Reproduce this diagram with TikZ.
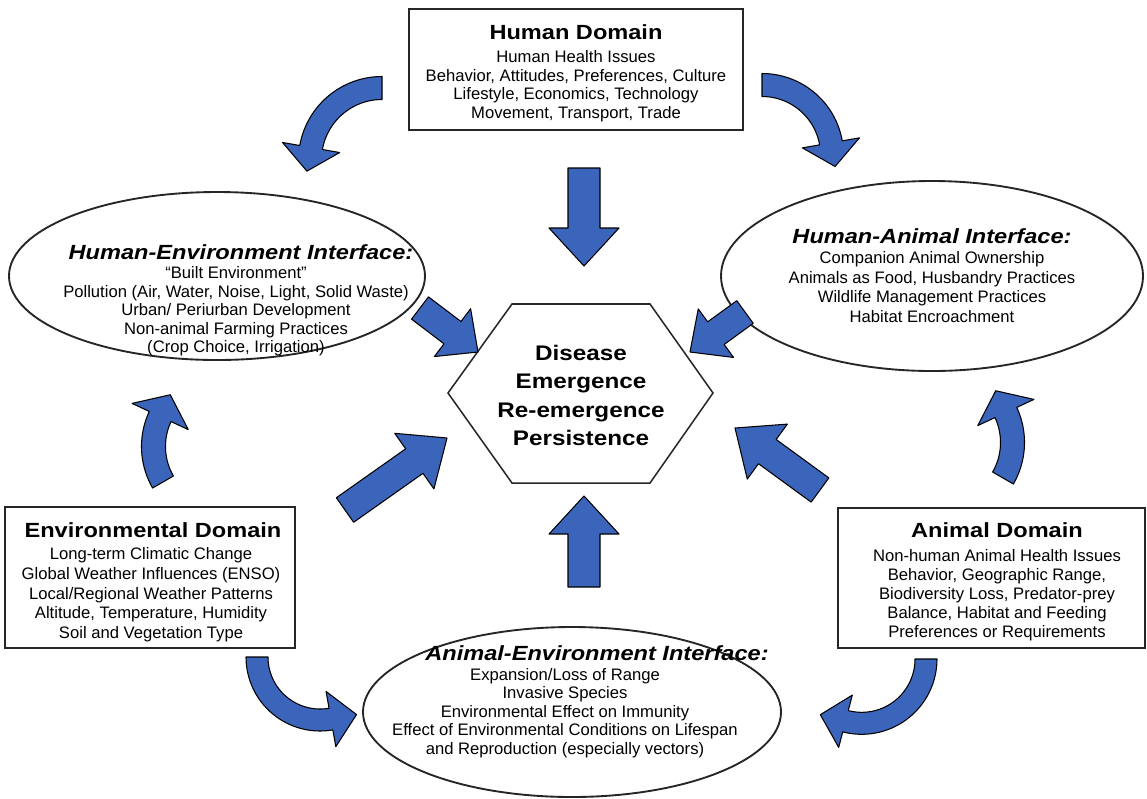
\documentclass[tikz,border=0pt]{standalone}
\usepackage{fontspec}
\setmainfont{Liberation Sans}
\newfontfamily\tfont[FakeStretch=1.15]{Liberation Sans}
\usetikzlibrary{shapes.geometric,calc}
\definecolor{arrowblue}{RGB}{59,101,186}

% curved block arrow: cx cy r a1 a2 shaft-half head-half head-length
\newcommand\curvarrow[8]{%
  \pgfmathsetmacro\ca{#5+90*sign(#5-#4)}%
  \filldraw[arr]
    plot[domain=#4:#5, samples=40] ({#1+(#3+#6)*cos(\x)},{#2+(#3+#6)*sin(\x)})
    -- ({#1+(#3+#7)*cos(#5)},{#2+(#3+#7)*sin(#5)})
    -- ($({#1+#3*cos(#5)},{#2+#3*sin(#5)})+(\ca:#8)$)
    -- ({#1+(#3-#7)*cos(#5)},{#2+(#3-#7)*sin(#5)})
    -- plot[domain=#5:#4, samples=40] ({#1+(#3-#6)*cos(\x)},{#2+(#3-#6)*sin(\x)})
    -- cycle;}

% straight block arrow: x1 y1 x2 y2 shaft-half head-half head-length
\newcommand\blockarrow[7]{%
  \pgfmathsetmacro\ba{atan2(#4-#2,#3-#1)}%
  \pgfmathsetmacro\bl{veclen(#3-#1,#4-#2)-#7}%
  \filldraw[arr] ($(#1,#2)+(\ba+90:#5)$) -- ($(#1,#2)+(\ba:\bl)+(\ba+90:#5)$)
    -- ($(#1,#2)+(\ba:\bl)+(\ba+90:#6)$) -- (#3,#4)
    -- ($(#1,#2)+(\ba:\bl)+(\ba-90:#6)$) -- ($(#1,#2)+(\ba:\bl)+(\ba-90:#5)$)
    -- ($(#1,#2)+(\ba-90:#5)$) -- cycle;}

\begin{document}
\begin{tikzpicture}[x=0.03cm, y=-0.03cm,
  box/.style={draw=black!85, line width=1.6pt, fill=white, inner sep=0pt},
  ell/.style={ellipse, draw=black!85, line width=1.6pt, fill=white, inner sep=0pt},
  body/.style={align=center, inner sep=0pt, anchor=north, font=\fontsize{14.2}{#1}\selectfont},
  ttl/.style={inner sep=0pt, anchor=base, font=\tfont\bfseries\fontsize{17.5}{20}\selectfont},
  ittl/.style={inner sep=0pt, anchor=base, font=\tfont\bfseries\itshape\fontsize{17.5}{20}\selectfont},
  hextext/.style={align=center, inner sep=0pt, anchor=north, font=\tfont\bfseries\fontsize{18}{24.2}\selectfont},
  arr/.style={fill=arrowblue, draw=black, line width=0.9pt, line join=round}]
\useasboundingbox (0,0) rectangle (1147,798);

% Human Domain
\node[box, minimum width=334*0.03cm, minimum height=121*0.03cm] (hd) at (576,69.5) {};
\node[ttl] (hdt) at (576,39) {Human Domain};
\node[body=16pt] (hdb) at (576,50.1) {Human Health Issues\\Behavior, Attitudes, Preferences, Culture\\Lifestyle, Economics, Technology\\Movement, Transport, Trade};

% Human-Environment Interface
\node[ell, minimum width=416*0.03cm, minimum height=168*0.03cm] (he) at (217,276) {};
\node[ittl] (het) at (241,259) {Human-Environment Interface:};
\node[body=15.8pt] (heb) at (236,266.5) {“Built Environment”\\Pollution (Air, Water, Noise, Light, Solid Waste)\\Urban/ Periurban Development\\Non-animal Farming Practices\\(Crop Choice, Irrigation)};

% Human-Animal Interface
\node[ell, minimum width=422*0.03cm, minimum height=190*0.03cm] (ha) at (932,276) {};
\node[ittl] (hat) at (932,243) {Human-Animal Interface:};
\node[body=16.8pt] (hab) at (932,251.1) {Companion Animal Ownership\\Animals as Food, Husbandry Practices\\Wildlife Management Practices\\Habitat Encroachment};

% Environmental Domain
\node[box, minimum width=290*0.03cm, minimum height=141*0.03cm] (ed) at (150,577.5) {};
\node[ttl] (edt) at (153,537) {Environmental Domain};
\node[body=16.9pt] (edb) at (151,547.1) {Long-term Climatic Change\\Global Weather Influences (ENSO)\\Local/Regional Weather Patterns\\Altitude, Temperature, Humidity\\Soil and Vegetation Type};

% Animal Domain
\node[box, minimum width=307*0.03cm, minimum height=140*0.03cm] (ad) at (991.5,578) {};
\node[ttl] (adt) at (997,537) {Animal Domain};
\node[body=16.2pt] (adb) at (997,549.1) {Non-human Animal Health Issues\\Behavior, Geographic Range,\\Biodiversity Loss, Predator-prey\\Balance, Habitat and Feeding\\Preferences or Requirements};

% Animal-Environment Interface
\node[ell, minimum width=418*0.03cm, minimum height=170*0.03cm] (ae) at (572,712) {};
\node[ittl] (aet) at (597,660) {Animal-Environment Interface:};
\node[body=15.8pt] (aeb) at (565,668.1) {Expansion/Loss of Range\\Invasive Species\\Environmental Effect on Immunity\\Effect of Environmental Conditions on Lifespan\\and Reproduction (especially vectors)};

% central hexagon
\draw[line width=1.3pt, black!85] (448,393) -- (512,304) -- (650,304) -- (713,393) -- (650,483) -- (512,483) -- cycle;
\node[hextext] (hex) at (581,345) {Disease\\Emergence\\Re-emergence\\Persistence};

% straight arrows towards the centre
\blockarrow{584}{168}{584}{266}{16}{35}{38}
\blockarrow{584}{587}{584}{496}{16}{35}{38}
\blockarrow{420}{308}{478}{352}{14}{30}{32}
\blockarrow{745}{312}{690}{352}{14}{30}{32}
\blockarrow{345}{510}{447}{438}{15}{34}{40}
\blockarrow{820}{490}{735}{428}{15}{34}{40}

% curved arrows around the cycle
\curvarrow{382}{160}{72}{270}{190}{11.5}{29}{24}
\curvarrow{762}{155}{70}{270}{350}{11.5}{29}{24}
\curvarrow{224.5}{446.5}{71}{150}{205}{12}{31}{24}
\curvarrow{941.5}{442.5}{71}{30}{-25}{12}{31}{24}
\curvarrow{320}{657}{63}{180}{80}{11}{28}{26}
\curvarrow{861.7}{659}{64.3}{0}{104.6}{11}{27}{26}
\end{tikzpicture}
\end{document}
